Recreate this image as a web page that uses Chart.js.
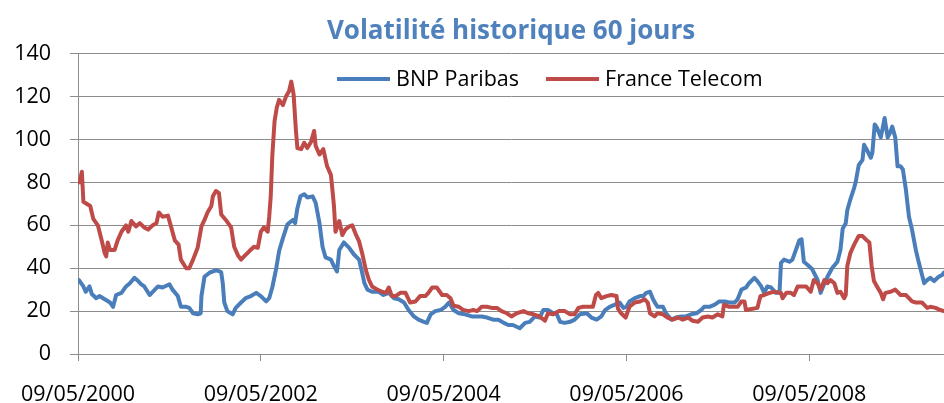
<!DOCTYPE html>
<html>
<head>
<meta charset="utf-8">
<script src="https://cdn.jsdelivr.net/npm/chart.js@4/dist/chart.umd.min.js"></script>
<style>
  html, body { margin: 0; padding: 0; background: #fff; }
  canvas { display: block; }
</style>
</head>
<body>
<canvas id="chart-vol" width="944" height="403"></canvas>
<script>
// x = months since 09/05/2000
const xTickMonths = [0, 24, 48, 72, 96];
const xTickLabels = ['09/05/2000', '09/05/2002', '09/05/2004', '09/05/2006', '09/05/2008'];
const seriesNames = ['BNP Paribas', 'France Telecom'];

const bnpMonths = [0.1, 0.7, 1.0, 1.5, 1.8, 2.4, 2.8, 3.5, 4.2, 4.6, 5.0, 5.7, 6.3, 6.8, 7.4, 7.9, 8.3, 8.7, 9.4, 9.8, 10.5, 11.1, 12.0, 12.4, 13.1, 13.5, 14.2, 14.6, 15.1, 15.7, 16.1, 16.2, 16.6, 17.3, 18.1, 18.6, 18.8, 19.0, 19.2, 19.6, 20.3, 20.7, 21.4, 22.0, 22.7, 23.4, 24.0, 24.7, 25.1, 25.5, 26.0, 26.4, 26.9, 27.5, 28.2, 28.5, 28.8, 29.2, 29.7, 30.1, 30.8, 31.2, 31.7, 32.1, 32.5, 33.2, 33.6, 34.0, 34.3, 34.9, 35.6, 36.2, 36.9, 37.3, 37.6, 38.0, 38.6, 39.5, 40.1, 40.8, 41.5, 42.1, 42.8, 43.4, 44.1, 44.7, 45.4, 45.8, 46.3, 46.9, 47.6, 48.2, 48.7, 49.3, 50.0, 50.8, 51.7, 52.4, 53.0, 53.7, 54.5, 55.2, 55.9, 56.5, 57.1, 58.0, 58.7, 59.3, 60.0, 60.6, 61.1, 61.7, 62.4, 62.8, 63.3, 63.9, 64.6, 65.2, 65.9, 66.8, 67.4, 68.1, 68.7, 69.2, 69.8, 70.5, 71.1, 71.6, 72.0, 72.4, 73.1, 73.8, 74.2, 74.6, 75.1, 75.5, 75.9, 76.1, 76.8, 77.2, 77.9, 78.5, 79.2, 79.8, 80.5, 81.2, 81.8, 82.2, 82.9, 83.6, 84.2, 84.9, 85.5, 86.2, 86.6, 87.1, 87.7, 88.1, 88.8, 89.2, 89.7, 90.1, 90.5, 91.0, 91.6, 92.1, 92.3, 92.7, 93.4, 93.8, 94.3, 94.7, 95.0, 95.3, 95.8, 96.4, 97.1, 97.5, 98.0, 98.4, 99.0, 99.7, 100.1, 100.4, 100.8, 101.0, 101.4, 101.9, 102.1, 102.5, 103.0, 103.2, 103.6, 104.1, 104.3, 104.6, 104.9, 105.4, 105.6, 105.9, 106.3, 106.6, 106.9, 107.3, 107.6, 108.0, 108.3, 108.7, 109.1, 109.5, 110.0, 110.4, 111.1, 111.5, 111.9, 112.4, 113.0, 113.5, 113.7];
const bnpVol = [34.5, 31.5, 29, 31.5, 28, 26, 27, 25.5, 24, 22, 27.5, 28.5, 31.5, 33, 35.5, 34, 32.5, 31.5, 27.5, 29, 31.5, 31, 32.5, 30, 27, 22, 22, 21.5, 19, 18.5, 19, 27, 36, 38, 39, 38.5, 38, 33, 24, 20, 18.5, 21.5, 24, 26, 27, 28.5, 27, 24.5, 26, 31, 39.5, 48, 54, 60.5, 62.5, 61, 68, 73.5, 74.5, 73, 73.5, 70.5, 61, 50, 45, 44, 41, 38.5, 48.5, 52, 49.5, 46.5, 44, 38, 33, 30, 29, 29, 27.5, 28.5, 26, 25.5, 24, 20.5, 17.5, 16, 15, 14.5, 18.5, 20, 20.5, 22, 24, 20.5, 19, 18.5, 17.5, 17.5, 17.5, 17, 16, 16, 14.5, 13.5, 13.5, 12, 14.5, 15, 17.5, 17, 20.5, 20.5, 19, 19, 15, 14.5, 15, 16, 18.5, 19, 17, 16, 17.5, 20.5, 22, 23, 24, 21.5, 22, 24.5, 26, 27, 27, 28.5, 29, 25.5, 23, 22, 22, 19, 16, 17, 17.5, 17.5, 18.5, 19, 20.5, 22, 22, 23, 24.5, 24.5, 24, 24, 25.5, 30, 31, 33, 35.5, 34, 31.5, 28.5, 31.5, 31, 28.5, 28.5, 42.5, 44, 43, 44, 49, 53, 53.5, 43, 41.5, 39.5, 34.5, 28.5, 33, 36, 40, 43, 48.5, 58.5, 61, 67, 72, 77.5, 80, 88, 90.5, 97.5, 95, 91.5, 94, 107, 105.5, 101, 104.5, 110, 101, 103, 106, 101, 87.5, 87.5, 86, 76.5, 64, 58, 48.5, 42.5, 33, 34.5, 35.5, 34, 36, 37, 38];

const ftMonths = [0.2, 0.5, 0.7, 1.6, 2.0, 2.6, 3.1, 3.5, 3.7, 3.9, 4.2, 4.8, 5.2, 5.7, 6.3, 6.6, 7.0, 7.6, 8.1, 8.7, 9.2, 9.8, 10.3, 10.6, 11.1, 11.8, 12.2, 12.7, 13.2, 13.5, 14.2, 14.6, 15.1, 15.7, 16.2, 16.6, 17.0, 17.5, 17.7, 18.1, 18.5, 18.8, 19.4, 20.1, 20.5, 21.0, 21.4, 21.8, 22.5, 23.1, 23.6, 24.0, 24.4, 24.9, 25.1, 25.3, 25.5, 25.8, 26.1, 26.4, 26.9, 27.3, 27.7, 28.0, 28.3, 28.6, 28.8, 29.3, 29.7, 30.1, 30.6, 31.0, 31.2, 31.7, 32.2, 32.7, 33.2, 33.4, 33.6, 33.8, 34.3, 34.7, 35.1, 35.6, 36.0, 36.5, 36.9, 37.3, 37.8, 38.2, 38.6, 39.3, 39.9, 40.4, 40.8, 41.2, 41.7, 42.3, 43.0, 43.6, 44.3, 44.9, 45.6, 46.0, 46.5, 47.1, 47.8, 48.4, 48.9, 49.3, 50.0, 50.6, 51.3, 51.9, 52.4, 53.0, 53.7, 54.3, 55.0, 55.6, 56.3, 56.9, 57.6, 58.5, 59.1, 59.8, 60.6, 61.3, 61.7, 62.4, 63.1, 63.9, 64.6, 65.2, 65.7, 66.3, 67.0, 67.6, 68.0, 68.3, 68.7, 69.4, 70.0, 70.7, 70.9, 71.3, 71.9, 72.4, 73.1, 73.8, 74.4, 74.8, 75.1, 75.7, 76.1, 76.8, 77.4, 78.1, 78.8, 79.4, 80.1, 80.7, 81.4, 82.0, 82.7, 83.3, 84.0, 84.6, 84.8, 85.5, 86.2, 86.6, 87.1, 87.5, 87.7, 88.4, 89.2, 89.6, 90.1, 90.8, 91.4, 92.3, 92.5, 93.0, 93.6, 94.0, 94.5, 94.9, 95.6, 96.2, 96.6, 97.1, 97.5, 98.0, 98.4, 98.8, 99.3, 99.7, 100.1, 100.6, 100.8, 101.0, 101.4, 101.9, 102.5, 103.0, 103.4, 103.9, 104.2, 104.5, 104.9, 105.4, 105.7, 106.0, 106.7, 107.3, 108.0, 108.7, 109.1, 109.5, 110.0, 110.4, 110.8, 111.5, 111.9, 112.6, 113.2, 113.7];
const ftVol = [80, 85, 71, 69, 63, 60, 53, 47, 45.5, 52, 48.5, 48.5, 53, 57, 60, 57, 62, 59.5, 61, 59, 58, 60, 61, 66, 64, 64.5, 59.5, 53, 51, 44, 40, 40, 44, 49.5, 59.5, 62.5, 66, 69, 73.5, 76, 75, 65, 62.5, 59, 50, 46, 44, 45.5, 48, 50, 49.5, 57, 59, 57, 64, 73.5, 92, 108.5, 115, 118.5, 116, 120, 122.5, 127, 121, 104.5, 96, 95.5, 98.5, 96, 99, 104, 97, 93, 95.5, 87.5, 83.5, 76.5, 69, 57, 62, 55.5, 58, 59.5, 60, 55.5, 52.5, 47, 39, 34.5, 31.5, 30, 29, 28.5, 31, 27, 27, 28.5, 28.5, 24, 24.5, 27, 27, 28.5, 31, 31, 27.5, 27.5, 26, 22.5, 22, 20.5, 20, 20.5, 20, 22, 22, 21.5, 21.5, 20, 19, 17.5, 19, 20, 19, 18.5, 17.5, 15.5, 19, 18.5, 20, 20, 18.5, 18.5, 21.5, 22, 22, 22, 27.5, 28.5, 26, 27, 27.5, 27, 21, 19, 17, 22, 24, 24.5, 25.5, 24, 19, 17.5, 19, 18.5, 17, 16, 17, 16, 17, 15.5, 15, 17, 17.5, 17, 18.5, 17.5, 23, 22, 22, 22, 24.5, 24.5, 20.5, 21, 21.5, 27, 27.5, 28.5, 29, 28.5, 26, 28.5, 28.5, 27.5, 31.5, 31.5, 31.5, 29, 34.5, 33, 30, 34.5, 33, 34.5, 33, 28.5, 29, 26, 27.5, 41, 47, 51, 55, 55, 53.5, 52, 41, 34, 31.5, 28.5, 25.5, 28.5, 29, 30, 27.5, 27.5, 26, 24.5, 24, 24, 24, 21.5, 22, 21.5, 20.5, 20];

const FONT = "'Open Sans', 'DejaVu Sans', sans-serif";
const GRID = '#8C8C8C';
const colors = ['#4A7EBB', '#BE4B48'];

const toPoints = (xs, ys) => xs.map((x, i) => ({ x: x, y: ys[i] }));

// legend drawn inside the plot, between the 120 and 140 lines
const innerLegend = {
    id: 'innerLegend',
    afterDraw(chart) {
        const ctx = chart.ctx;
        const y = 79;
        let x = 337;
        ctx.save();
        ctx.font = '21.5px ' + FONT;
        ctx.textBaseline = 'middle';
        ctx.fillStyle = '#000';
        seriesNames.forEach((name, i) => {
            ctx.strokeStyle = colors[i];
            ctx.lineWidth = 4;
            ctx.lineCap = 'butt';
            ctx.beginPath();
            ctx.moveTo(x, y);
            ctx.lineTo(x + 53, y);
            ctx.stroke();
            ctx.fillText(name, x + 59, y + 1);
            x += 59 + ctx.measureText(name).width + 27;
        });
        ctx.restore();
    }
};

new Chart(document.getElementById('chart-vol'), {
    type: 'line',
    data: {
        datasets: [{
            label: seriesNames[0],
            data: toPoints(bnpMonths, bnpVol),
            borderColor: colors[0],
            borderWidth: 4,
            order: 1
        }, {
            label: seriesNames[1],
            data: toPoints(ftMonths, ftVol),
            borderColor: colors[1],
            borderWidth: 4,
            order: 0
        }]
    },
    options: {
        responsive: false,
        animation: false,
        devicePixelRatio: 1,
        layout: { padding: 0 },
        elements: {
            point: { radius: 0 },
            line: { tension: 0, borderJoinStyle: 'round', borderCapStyle: 'round' }
        },
        plugins: {
            legend: { display: false },
            tooltip: { enabled: false },
            title: {
                display: true,
                fullSize: false,
                text: 'Volatilité historique 60 jours',
                color: '#4F81BD',
                font: { family: FONT, size: 26, weight: 'bold' },
                padding: { top: 16, bottom: 6.5 }
            }
        },
        scales: {
            x: {
                type: 'linear',
                min: 0,
                max: 113.7,
                afterBuildTicks: (axis) => { axis.ticks = xTickMonths.map(v => ({ value: v })); },
                afterFit: (axis) => { axis.height = 49; },
                ticks: {
                    callback: (v, i) => xTickLabels[i],
                    color: '#000',
                    font: { family: FONT, size: 21.5 },
                    padding: 21,
                    maxRotation: 0,
                    autoSkip: false
                },
                grid: { drawOnChartArea: false, drawTicks: true, tickLength: 7, color: GRID },
                border: { color: GRID }
            },
            y: {
                min: 0,
                max: 140,
                afterFit: (axis) => { axis.width = 75; },
                ticks: {
                    stepSize: 20,
                    color: '#000',
                    font: { family: FONT, size: 21.5 },
                    padding: 19
                },
                grid: { color: GRID, tickLength: 8 },
                border: { color: GRID }
            }
        }
    },
    plugins: [innerLegend]
});
</script>
</body>
</html>
